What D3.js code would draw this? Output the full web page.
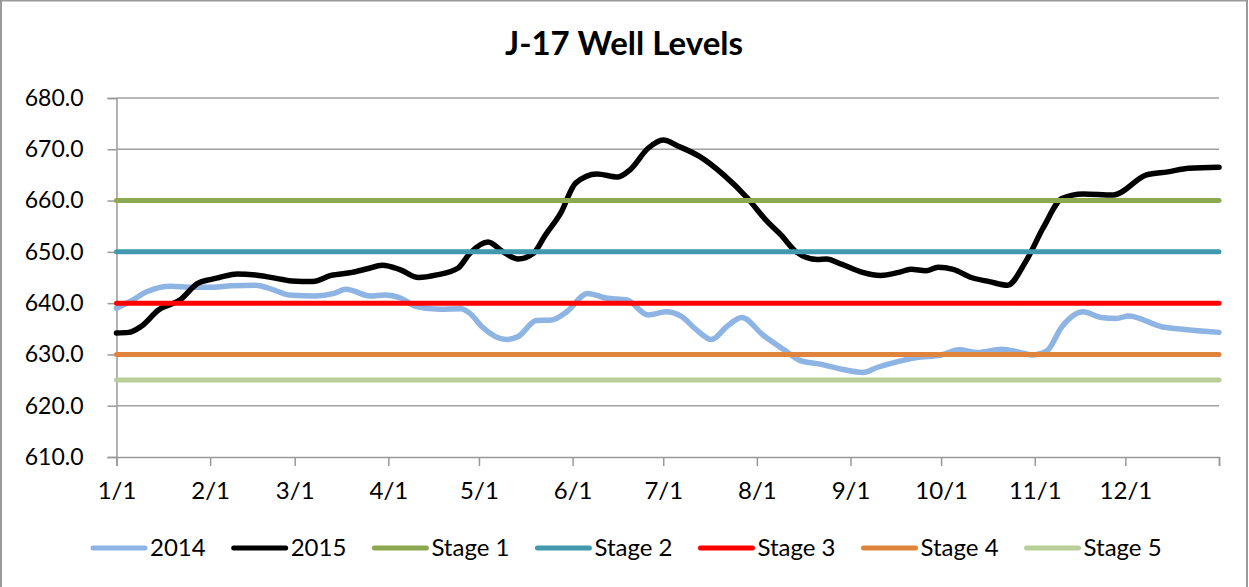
<!DOCTYPE html>
<html>
<head>
<meta charset="utf-8">
<script src="https://cdn.jsdelivr.net/npm/d3@7"></script>
<style>
  body { margin: 0; background: #fff; }
  text { font-family: Lato, "Open Sans", sans-serif; fill: #000; }
</style>
</head>
<body>
<div id="chart"></div>
<script>
// day of year, level (ft)
const level2014 = [
    [0, 639.0], [5, 640.5], [10, 642.2], [18, 643.3], [25, 643.1], [32, 643.1], [38, 643.4],
    [46, 643.5], [52, 642.6], [57, 641.6], [66, 641.4], [72, 641.9], [76, 642.7], [84, 641.4],
    [89, 641.6], [94, 641.0], [99, 639.4], [107, 638.8], [114, 638.9], [117, 638.0], [121, 635.4],
    [129, 632.9], [133, 633.5], [139, 636.6], [144, 636.7], [149, 638.3], [156, 641.9], [162, 641.0],
    [169, 640.6], [176, 637.7], [182, 638.3], [187, 637.4], [192, 634.8], [197, 632.9], [202, 635.4],
    [207, 637.2], [214, 633.8], [221, 630.9], [226, 628.9], [233, 628.1], [241, 627.0], [247, 626.5],
    [252, 627.5], [258, 628.5], [265, 629.4], [273, 629.9], [279, 630.9], [285, 630.4], [293, 631.0],
    [299, 630.4], [303, 629.9], [308, 630.7], [313, 635.4], [320, 638.3], [326, 637.2], [331, 637.0],
    [335, 637.5], [346, 635.4], [353, 634.9], [365, 634.3]
];

const level2015 = [
    [0, 634.2], [4, 634.3], [8, 635.4], [14, 638.7], [21, 640.6], [27, 643.9], [31, 644.6],
    [34, 645.0], [40, 645.7], [46, 645.5], [55, 644.6], [58, 644.3], [65, 644.2], [71, 645.4],
    [78, 646.0], [83, 646.7], [88, 647.4], [94, 646.5], [100, 645.0], [106, 645.5], [113, 646.8],
    [117, 649.7], [123, 651.9], [128, 650.0], [133, 648.6], [138, 649.7], [142, 653.3], [147, 657.5],
    [152, 663.4], [159, 665.2], [166, 664.6], [170, 666.0], [176, 670.2], [181, 671.8], [186, 670.6],
    [193, 668.6], [201, 665.0], [209, 660.4], [215, 656.2], [220, 653.3], [225, 650.0], [232, 648.5],
    [235, 648.6], [240, 647.6], [247, 646.0], [253, 645.4], [259, 646.0], [263, 646.6], [268, 646.3],
    [272, 647.0], [277, 646.6], [283, 645.0], [289, 644.2], [295, 643.5], [301, 648.1], [307, 654.9],
    [313, 660.4], [320, 661.3], [330, 661.1], [341, 665.0], [348, 665.6], [355, 666.3], [365, 666.5]
];

const stageNames = ["Stage 1", "Stage 2", "Stage 3", "Stage 4", "Stage 5"];
const stageLevels = [660, 650, 640, 630, 625];

const yTicks = [610, 620, 630, 640, 650, 660, 670, 680];

const colors = {
    "2014": "#8db4e2",
    "2015": "#000000",
    "Stage 1": "#8ca851",
    "Stage 2": "#4299ae",
    "Stage 3": "#ff0000",
    "Stage 4": "#e0843d",
    "Stage 5": "#b8cf97"
};

const W = 1249, H = 587;
const margin = { top: 98, right: 30, bottom: 130, left: 116.5 };
const width = W - margin.left - margin.right;
const height = H - margin.top - margin.bottom;

const start = new Date(Date.UTC(2015, 0, 1));
const end = new Date(Date.UTC(2016, 0, 1));
const toDate = day => d3.utcDay.offset(start, day);

const svg = d3.select("#chart").append("svg")
    .attr("width", W)
    .attr("height", H);

// outer chart border
svg.append("rect")
    .attr("x", 1)
    .attr("y", 0.5)
    .attr("width", W - 3)
    .attr("height", H + 10)
    .attr("fill", "none")
    .attr("stroke", "#9a9a9a")
    .attr("stroke-width", 2);

svg.append("text")
    .attr("x", 624)
    .attr("y", 55)
    .attr("text-anchor", "middle")
    .style("font-size", "33px")
    .style("font-weight", "bold")
    .text("J-17 Well Levels");

const g = svg.append("g")
    .attr("transform", `translate(${margin.left},${margin.top})`);

const x = d3.scaleUtc().domain([start, end]).range([0, width]);
const y = d3.scaleLinear().domain([610, 680]).range([height, 0]);

// gridlines + y axis
const yAxis = g.append("g")
    .call(d3.axisLeft(y).tickValues(yTicks).tickFormat(d3.format(".1f")).tickSize(9).tickPadding(24));
yAxis.select(".domain").attr("stroke", "#999").attr("stroke-width", 1.5);
yAxis.selectAll(".tick line").attr("stroke", "#999").attr("stroke-width", 1.5);
yAxis.selectAll(".tick text").style("font-size", "23px").style("font-family", "Lato").attr("fill", "#000");

g.append("g")
    .selectAll("line")
    .data(yTicks.filter(d => d > 610))
    .join("line")
    .attr("x1", 0)
    .attr("x2", width)
    .attr("y1", d => y(d))
    .attr("y2", d => y(d))
    .attr("stroke", "#a0a0a0")
    .attr("stroke-width", 1.5);

// x axis
const monthTicks = d3.utcMonth.range(start, end).concat([end]);
const xAxis = g.append("g")
    .attr("transform", `translate(0,${height})`)
    .call(d3.axisBottom(x).tickValues(monthTicks)
        .tickFormat(d => +d === +end ? "" : d3.utcFormat("%-m/%-d")(d))
        .tickSize(9).tickPadding(16));
xAxis.select(".domain").attr("stroke", "#999").attr("stroke-width", 1.5);
xAxis.selectAll(".tick line").attr("stroke", "#999").attr("stroke-width", 1.5);
xAxis.selectAll(".tick text").style("font-size", "24px").style("font-family", "Lato").attr("fill", "#000");

const line = d3.line()
    .x(d => x(toDate(d[0])))
    .y(d => y(d[1]))
    .curve(d3.curveMonotoneX);

g.append("path")
    .datum(level2014)
    .attr("fill", "none")
    .attr("stroke", colors["2014"])
    .attr("stroke-width", 5.5)
    .attr("stroke-linejoin", "round")
    .attr("stroke-linecap", "round")
    .attr("d", line);

g.append("path")
    .datum(level2015)
    .attr("fill", "none")
    .attr("stroke", colors["2015"])
    .attr("stroke-width", 5.5)
    .attr("stroke-linejoin", "round")
    .attr("stroke-linecap", "round")
    .attr("d", line);

// stage lines, drawn over the data like the original
g.append("g")
    .selectAll("line")
    .data(stageLevels)
    .join("line")
    .attr("x1", x(start))
    .attr("x2", x(end))
    .attr("y1", d => y(d))
    .attr("y2", d => y(d))
    .attr("stroke", (d, i) => colors[stageNames[i]])
    .attr("stroke-width", 5)
    .attr("stroke-linecap", "round");

// legend
const legendKeys = ["2014", "2015"].concat(stageNames);
const legend = svg.append("g").attr("transform", "translate(0,548)");
let lx = 91;
legendKeys.forEach(k => {
    const item = legend.append("g").attr("transform", `translate(${lx},0)`);
    item.append("line")
        .attr("x1", 2).attr("x2", 54)
        .attr("stroke", colors[k])
        .attr("stroke-width", 5)
        .attr("stroke-linecap", "round");
    const t = item.append("text")
        .attr("x", 59)
        .attr("dy", "0.35em")
        .style("font-size", "24px")
        .text(k);
    lx += 59 + t.node().getComputedTextLength() + 26;
});
</script>
</body>
</html>
